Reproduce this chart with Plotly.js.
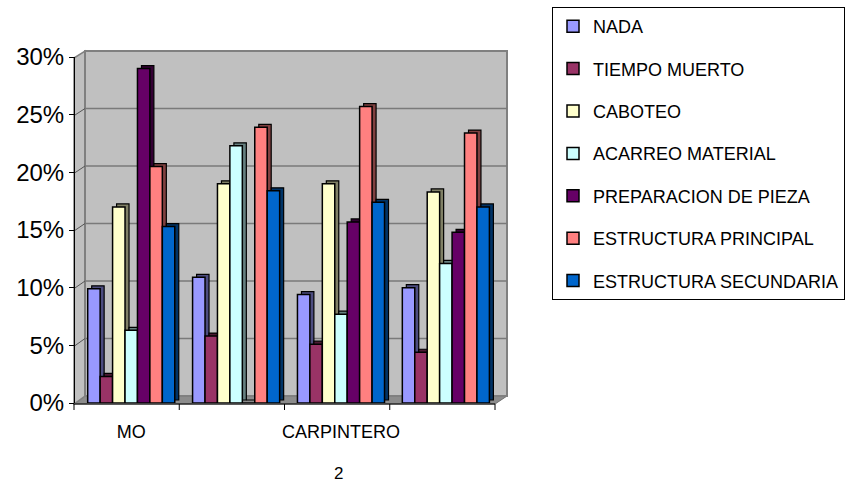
<!DOCTYPE html>
<html>
<head>
<meta charset="utf-8">
<script src="https://cdn.plot.ly/plotly-3.0.1.min.js"></script>
<style>
  html, body { margin: 0; padding: 0; background: #ffffff; }
  #chart { width: 853px; height: 483px; }
</style>
</head>
<body>
<div id="chart"></div>
<script>
// Categories along the horizontal axis (only every other one carries a label)
const categories = ["MO", "", "CARPINTERO", ""];

// Series names, in legend order
const seriesNames = [
  "NADA",
  "TIEMPO MUERTO",
  "CABOTEO",
  "ACARREO MATERIAL",
  "PREPARACION DE PIEZA",
  "ESTRUCTURA PRINCIPAL",
  "ESTRUCTURA SECUNDARIA"
];

// Percentages per series, one value per category
const nada          = [9.9, 10.9, 9.4, 10.0];
const tiempoMuerto  = [2.3, 5.8, 5.1, 4.4];
const caboteo       = [17.0, 19.0, 19.0, 18.3];
const acarreo       = [6.3, 22.3, 7.7, 12.1];
const preparacion   = [29.0, 0.0, 15.7, 14.8];
const estPrincipal  = [20.5, 23.9, 25.7, 23.4];
const estSecundaria = [15.3, 18.4, 17.4, 17.0];

const seriesValues = [nada, tiempoMuerto, caboteo, acarreo, preparacion, estPrincipal, estSecundaria];

// Value axis ticks and their labels
const yTicks = [0, 5, 10, 15, 20, 25, 30];
const yTickLabels = ["0%", "5%", "10%", "15%", "20%", "25%", "30%"];

// Face colours (front) and shaded side colours
const frontColors = ["#9999FF", "#993366", "#FFFFCC", "#CCFFFF", "#660066", "#FF8080", "#0066CC"];
const sideColors  = ["#4D4D80", "#4D1A33", "#808066", "#668080", "#330033", "#804040", "#003366"];

// ---- geometry (figure pixels) ----
const W = 853, H = 483;
const px = x => x / W;          // pixel -> paper x
const py = y => 1 - y / H;      // pixel -> paper y

// plane in which bar fronts are drawn
const plotLeft = 78.8, plotRight = 498.3, plotTop = 57, plotBottom = 403;
const yMax = 30;
const unitPx = (plotRight - plotLeft) / categories.length;  // px per category
const valPx = (plotBottom - plotTop) / yMax;                 // px per percent

const barW = 0.1186;            // bar width in category units
const depthX = 4 / unitPx;      // extrusion to the right
const depthY = 3 / valPx;       // extrusion upwards

// back wall / side wall / floor corners
const fL = 74, fR = 495, fB = 404, fT = 58;    // front frame
const bL = 85, bR = 507, bB = 396, bT = 51;    // back wall
const backPx = (bB - bT) / yMax;
const frontPx = (fB - fT) / yMax;

const idx = categories.map((_, i) => i);

const traces = [];
// shaded extrusions first, so the fronts cover them
seriesValues.forEach((vals, s) => {
  traces.push({
    type: "bar",
    x: idx.map(i => i + (s - 3) * barW + depthX),
    y: vals,
    base: vals.map(() => depthY),
    width: barW,
    marker: { color: sideColors[s], line: { color: "#000000", width: 1.2 } },
    showlegend: false,
    hoverinfo: "skip"
  });
});
seriesValues.forEach((vals, s) => {
  traces.push({
    type: "bar",
    name: seriesNames[s],
    legendgroup: "g" + s,
    x: idx.map(i => i + (s - 3) * barW),
    y: vals,
    width: barW,
    marker: { color: frontColors[s], line: { color: "#000000", width: 1.5 } },
    hoverinfo: "name+y"
  });
});

function poly(pts) {
  return "M" + pts.map(p => px(p[0]) + "," + py(p[1])).join("L") + "Z";
}

const shapes = [];
// floor
shapes.push({ type: "path", xref: "paper", yref: "paper", layer: "below",
  path: poly([[fL, fB], [bL, bB], [bR, bB], [fR, fB]]),
  fillcolor: "#8C8C8C", line: { color: "#6E6E6E", width: 1 } });
// side wall
shapes.push({ type: "path", xref: "paper", yref: "paper", layer: "below",
  path: poly([[fL, fB], [fL, fT], [bL, bT], [bL, bB]]),
  fillcolor: "#C0C0C0", line: { color: "#808080", width: 1.5 } });
// back wall
shapes.push({ type: "path", xref: "paper", yref: "paper", layer: "below",
  path: poly([[bL, bB], [bL, bT], [bR, bT], [bR, bB]]),
  fillcolor: "#C0C0C0", line: { color: "#808080", width: 2 } });
// gridlines on back wall and side wall
yTicks.slice(1, -1).forEach(v => {
  const yb = bB - v * backPx;
  const yf = fB - v * frontPx;
  shapes.push({ type: "line", xref: "paper", yref: "paper", layer: "below",
    x0: px(bL), x1: px(bR), y0: py(yb), y1: py(yb),
    line: { color: "#7A7A7A", width: 1.5 } });
  shapes.push({ type: "line", xref: "paper", yref: "paper", layer: "below",
    x0: px(fL), x1: px(bL), y0: py(yf), y1: py(yb),
    line: { color: "#555555", width: 1 } });
});
// front edge of the floor with category ticks
shapes.push({ type: "line", xref: "paper", yref: "paper",
  x0: px(fL), x1: px(fR), y0: py(fB), y1: py(fB),
  line: { color: "#000000", width: 1 } });
for (let k = 0; k <= categories.length; k++) {
  const xt = fL + k * (fR - fL) / categories.length;
  shapes.push({ type: "line", xref: "paper", yref: "paper",
    x0: px(xt), x1: px(xt), y0: py(fB), y1: py(fB + 6),
    line: { color: "#000000", width: 1 } });
}

const layout = {
  width: W,
  height: H,
  margin: { l: 0, r: 0, t: 0, b: 0, pad: 0 },
  paper_bgcolor: "#FFFFFF",
  plot_bgcolor: "rgba(0,0,0,0)",
  barmode: "overlay",
  showlegend: true,
  font: { family: "Liberation Sans, Arial, sans-serif", color: "#000000" },
  xaxis: {
    domain: [px(plotLeft), px(plotRight)],
    range: [-0.5, categories.length - 0.5],
    tickmode: "array",
    tickvals: idx,
    ticktext: categories,
    ticks: "",
    showline: false,
    showgrid: false,
    zeroline: false,
    tickfont: { size: 18 },
    ticklabelstandoff: 16,
    automargin: false,
    fixedrange: true
  },
  yaxis: {
    domain: [py(plotBottom), py(plotTop)],
    range: [0, yMax],
    tickmode: "array",
    tickvals: yTicks,
    ticktext: yTickLabels,
    anchor: "free",
    position: px(fL),
    showline: true,
    linecolor: "#000000",
    linewidth: 1,
    ticks: "outside",
    ticklen: 5,
    tickcolor: "#000000",
    showgrid: false,
    zeroline: false,
    tickfont: { size: 24 },
    automargin: false,
    fixedrange: true
  },
  legend: {
    x: px(552), y: py(7),
    xanchor: "left", yanchor: "top",
    bgcolor: "#FFFFFF",
    bordercolor: "#000000",
    borderwidth: 1,
    font: { size: 18 },
    traceorder: "grouped",
    tracegroupgap: 16
  },
  shapes: shapes,
  annotations: [{
    text: "2",
    xref: "paper", yref: "paper",
    x: px(338), y: py(473),
    xanchor: "center", yanchor: "middle",
    showarrow: false,
    font: { size: 17 }
  }]
};

Plotly.newPlot("chart", traces, layout, { displayModeBar: false, staticPlot: true });
</script>
</body>
</html>
